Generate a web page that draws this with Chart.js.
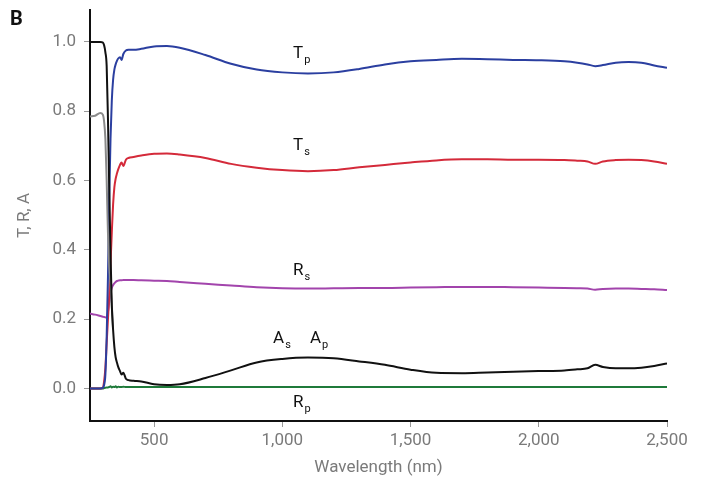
<!DOCTYPE html>
<html>
<head>
<meta charset="utf-8">
<script src="https://cdn.jsdelivr.net/npm/chart.js@4"></script>
<style>
  html, body { margin: 0; padding: 0; background: #fff; }
  #wrap { width: 705px; height: 485px; }
</style>
</head>
<body>
<div id="wrap"><canvas id="spectra"></canvas></div>
<script>
// wavelength grid (nm), denser where the curves switch
const wavelengths = [250, 270, 290, 300, 305, 310, 315, 320, 325, 330, 335, 340, 345, 350, 355, 360, 367, 373, 380, 390,
  400, 420, 450, 500, 550, 600, 700, 800, 900, 1000, 1100, 1200, 1300, 1400, 1500, 1600, 1700, 1800, 1900, 2000,
  2100, 2150, 2190, 2220, 2250, 2300, 2350, 2400, 2450, 2500];

const tP = [0, 0, 0, 0.002, 0.01, 0.04, 0.15, 0.32, 0.55, 0.72, 0.83, 0.89, 0.92, 0.935, 0.945, 0.952, 0.956, 0.948, 0.965, 0.975,
  0.977, 0.977, 0.98, 0.987, 0.988, 0.983, 0.962, 0.937, 0.92, 0.912, 0.909, 0.912, 0.922, 0.935, 0.944, 0.948, 0.951, 0.95, 0.948, 0.947,
  0.944, 0.94, 0.935, 0.93, 0.933, 0.94, 0.942, 0.94, 0.932, 0.925];

const tS = [0, 0, 0, 0.002, 0.02, 0.06, 0.13, 0.2, 0.27, 0.36, 0.45, 0.53, 0.58, 0.605, 0.62, 0.632, 0.645, 0.652, 0.642, 0.66,
  0.665, 0.668, 0.672, 0.677, 0.678, 0.675, 0.665, 0.648, 0.637, 0.63, 0.627, 0.63, 0.638, 0.645, 0.652, 0.658, 0.661, 0.661, 0.66, 0.66,
  0.659, 0.657, 0.655, 0.648, 0.655, 0.659, 0.66, 0.659, 0.655, 0.648];

const rS = [0.216, 0.213, 0.209, 0.207, 0.206, 0.205, 0.206, 0.22, 0.25, 0.275, 0.29, 0.298, 0.303, 0.307, 0.31, 0.311, 0.312, 0.312, 0.313, 0.313,
  0.313, 0.313, 0.312, 0.311, 0.31, 0.307, 0.302, 0.297, 0.292, 0.289, 0.288, 0.289, 0.29, 0.29, 0.291, 0.292, 0.293, 0.293, 0.292, 0.291,
  0.29, 0.289, 0.288, 0.285, 0.287, 0.288, 0.288, 0.287, 0.286, 0.284];

const rP = [0, 0, 0, 0, 0.001, 0.002, 0.003, 0.003, 0.004, 0.006, 0.003, 0.005, 0.004, 0.006, 0.003, 0.005, 0.004, 0.004, 0.005, 0.004,
  0.004, 0.004, 0.004, 0.004, 0.004, 0.004, 0.004, 0.004, 0.004, 0.004, 0.004, 0.004, 0.004, 0.004, 0.004, 0.004, 0.004, 0.004, 0.004, 0.004,
  0.004, 0.004, 0.004, 0.004, 0.004, 0.004, 0.004, 0.004, 0.004, 0.004];

// absorbance (black) and the grey trace that only shows below ~340 nm
const aSP = [1.0, 1.0, 1.0, 0.998, 0.99, 0.97, 0.93, 0.78, 0.58, 0.39, 0.24, 0.17, 0.12, 0.09, 0.075, 0.062, 0.05, 0.04, 0.045, 0.028,
  0.024, 0.022, 0.02, 0.012, 0.01, 0.012, 0.03, 0.052, 0.075, 0.085, 0.089, 0.087, 0.078, 0.068, 0.054, 0.045, 0.044, 0.046, 0.048, 0.05,
  0.052, 0.055, 0.058, 0.068, 0.062, 0.058, 0.058, 0.06, 0.065, 0.072];

const greyTrace = [0.785, 0.787, 0.795, 0.79, 0.77, 0.72, 0.6, 0.45, 0.35, 0.3, 0.24, 0.17];

const xTicks = [500, 1000, 1500, 2000, 2500];
const yTicks = [0, 0.2, 0.4, 0.6, 0.8, 1.0];

// curve names, placed in data units
const curveLabels = [
  { main: 'T', sub: 'p', x: 1042, y: 0.953 },
  { main: 'T', sub: 's', x: 1042, y: 0.688 },
  { main: 'R', sub: 's', x: 1042, y: 0.327 },
  { main: 'A', sub: 's', x: 964, y: 0.131 },
  { main: 'A', sub: 'p', x: 1108, y: 0.131 },
  { main: 'R', sub: 'p', x: 1042, y: -0.054 }
];

const pts = vals => vals.map((v, i) => ({ x: wavelengths[i], y: v }));

const line = (label, vals, color) => ({
  label,
  data: pts(vals),
  borderColor: color,
  borderWidth: 2,
  pointRadius: 0,
  cubicInterpolationMode: 'monotone',
  spanGaps: false
});

const labelPlugin = {
  id: 'curveLabels',
  afterDatasetsDraw(chart) {
    const ctx = chart.ctx;
    const xs = chart.scales.x, ys = chart.scales.y;
    ctx.save();
    ctx.fillStyle = '#111';
    ctx.textBaseline = 'alphabetic';
    ctx.textAlign = 'left';
    curveLabels.forEach(l => {
      const px = xs.getPixelForValue(l.x);
      const py = ys.getPixelForValue(l.y);
      ctx.font = '17px Roboto, sans-serif';
      ctx.fillText(l.main, px, py);
      const w = ctx.measureText(l.main).width;
      ctx.font = '11px Roboto, sans-serif';
      ctx.fillText(l.sub, px + w + 1, py + 5);
    });
    ctx.font = 'bold 20px Roboto, sans-serif';
    ctx.fillText('B', 10, 25);
    ctx.restore();
  }
};

const tickGrey = '#7a7a7a';

new Chart(document.getElementById('spectra').getContext('2d'), {
  type: 'line',
  data: {
    datasets: [
      line('A', aSP, '#111111'),
      line('grey', greyTrace, '#8a8a8a'),
      line('Tp', tP, '#2b3fa0'),
      line('Ts', tS, '#d42a3a'),
      line('Rs', rS, '#a244ac'),
      line('Rp', rP, '#1f7a3a')
    ]
  },
  options: {
    responsive: true,
    maintainAspectRatio: false,
    animation: false,
    layout: { padding: { top: 10, right: 38, left: 0, bottom: 0 } },
    plugins: { legend: { display: false }, tooltip: { enabled: false } },
    scales: {
      x: {
        type: 'linear',
        min: 250,
        max: 2500,
        afterBuildTicks: s => { s.ticks = xTicks.map(v => ({ value: v })); },
        afterFit: s => { s.height = 64; },
        border: { color: '#111', width: 2 },
        grid: { drawOnChartArea: false, tickLength: 6, color: '#999' },
        ticks: {
          color: tickGrey,
          padding: 4,
          maxRotation: 0,
          font: { family: 'Roboto', size: 17 },
          callback: v => v.toLocaleString('en-US')
        },
        title: {
          display: true,
          text: 'Wavelength (nm)',
          color: tickGrey,
          font: { family: 'Roboto', size: 17 },
          padding: { top: 0, bottom: 7 }
        }
      },
      y: {
        min: -0.094,
        max: 1.092,
        afterBuildTicks: s => { s.ticks = yTicks.map(v => ({ value: v })); },
        afterFit: s => { s.width = 90; s.paddingTop = 0; s.paddingBottom = 0; },
        border: { color: '#111', width: 2 },
        grid: { drawOnChartArea: false, tickLength: 6, color: '#999' },
        ticks: {
          color: tickGrey,
          padding: 8,
          font: { family: 'Roboto', size: 17 },
          callback: v => v.toFixed(1)
        },
        title: {
          display: true,
          text: 'T, R, A',
          color: tickGrey,
          font: { family: 'Roboto', size: 17 },
          padding: { top: 15, bottom: 4 }
        }
      }
    }
  },
  plugins: [labelPlugin]
});
</script>
</body>
</html>
